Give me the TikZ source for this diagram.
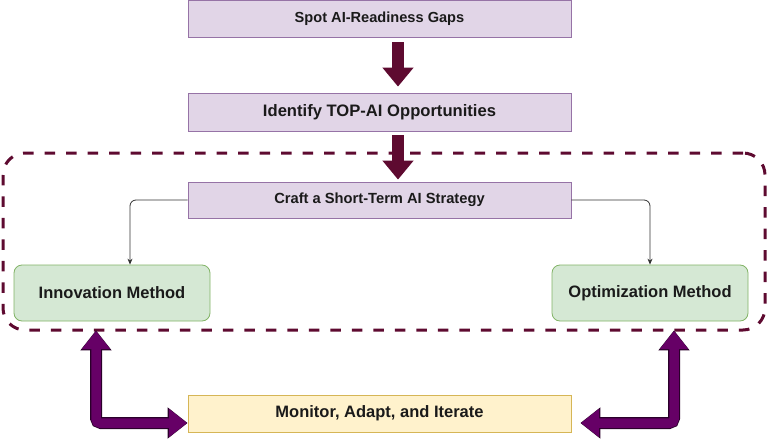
\documentclass[tikz,border=0pt]{standalone}
\usepackage{fontspec}
\setmainfont{Liberation Sans}
\usetikzlibrary{arrows.meta}
\definecolor{pfill}{HTML}{E1D5E7}
\definecolor{pline}{HTML}{9673A6}
\definecolor{gfill}{HTML}{D5E8D4}
\definecolor{gline}{HTML}{82B366}
\definecolor{yfill}{HTML}{FFF2CC}
\definecolor{yline}{HTML}{D6B656}
\definecolor{maroon}{HTML}{5E0A30}
\definecolor{purp}{HTML}{660066}
\definecolor{purpdark}{HTML}{2A002A}
\definecolor{txt}{HTML}{1A1A1A}
\definecolor{conn}{HTML}{333333}
\tikzset{
  pbox/.style={draw=pline, fill=pfill, line width=0.8pt, minimum width=383pt, text=txt, font=\bfseries},
  gbox/.style={draw=gline, fill=gfill, line width=0.8pt, rounded corners=8pt, minimum width=196pt, minimum height=56pt, text=txt, font=\bfseries\fontsize{16.5}{19}\selectfont},
  ybox/.style={draw=yline, fill=yfill, line width=0.8pt, minimum width=383pt, minimum height=37pt, text=txt, font=\bfseries\fontsize{16.5}{19}\selectfont},
  grpbox/.style={draw=maroon, line width=3pt, dash pattern=on 10.5pt off 11pt, rounded corners=22pt, minimum width=762pt, minimum height=177pt},
  downarrow/.style={draw=maroon, line width=12pt, -{Triangle[width=30pt,length=19pt,fill=maroon]}},
  bigouter/.style={draw=purpdark, line width=12pt, rounded corners=5pt, {Triangle[width=30pt,length=20pt]}-{Triangle[width=30pt,length=20pt]}},
  biginner/.style={draw=purp, line width=9.5pt, rounded corners=4pt, {Triangle[width=27pt,length=18pt]}-{Triangle[width=27pt,length=18pt]}},
  thinconn/.style={draw=conn, line width=0.8pt, rounded corners=6pt, -{Stealth[length=6pt,width=5pt]}}
}
\begin{document}
\begin{tikzpicture}[x=1pt,y=-1pt]
\useasboundingbox (0,0) rectangle (768,439);
\node[grpbox] (grp) at (384,241.5) {};
\node[pbox, minimum height=36.5pt, font=\bfseries\fontsize{14.6}{17}\selectfont] (spot) at (379.5,18.7) {Spot AI-Readiness Gaps};
\node[pbox, minimum height=38pt, font=\bfseries\fontsize{16.6}{19}\selectfont] (ident) at (379.5,112) {Identify TOP-AI Opportunities};
\node[pbox, minimum height=36pt, font=\bfseries\fontsize{14.7}{17}\selectfont] (craft) at (379.5,200) {Craft a Short-Term AI Strategy};
\node[gbox] (innov) at (112,293) {Innovation Method};
\node[gbox] (optim) at (650,293) {Optimization Method};
\node[ybox] (mon) at (379.5,413.5) {Monitor, Adapt, and Iterate};
% down arrows
\draw[downarrow] ([xshift=18.5pt,yshift=-5pt]spot.south) -- ([xshift=18.5pt,yshift=6pt]ident.north);
\draw[downarrow] ([xshift=18.5pt,yshift=-4pt]ident.south) -- ([xshift=18.5pt,yshift=2pt]craft.north);
% thin connectors
\draw[thinconn] (craft.west) -| ([xshift=18pt]innov.north);
\draw[thinconn] (craft.east) -| (optim.north);
% big purple double arrows
\draw[bigouter] ([xshift=-16pt,yshift=-9pt]innov.south) |- ([yshift=-9.5pt]mon.west);
\draw[biginner] ([xshift=-16pt,yshift=-9.6pt]innov.south) |- ([xshift=-0.6pt,yshift=-9.5pt]mon.west);
\draw[bigouter] ([xshift=24pt,yshift=-9pt]optim.south) |- ([xshift=9pt,yshift=-9.5pt]mon.east);
\draw[biginner] ([xshift=24pt,yshift=-9.6pt]optim.south) |- ([xshift=9.6pt,yshift=-9.5pt]mon.east);
\end{tikzpicture}
\end{document}
